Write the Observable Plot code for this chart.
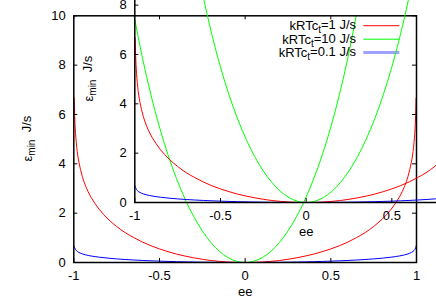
<!DOCTYPE html>
<html>
<head>
<meta charset="utf-8">
<script src="https://cdn.jsdelivr.net/npm/d3@7"></script>
<script src="https://cdn.jsdelivr.net/npm/@observablehq/plot@0.6"></script>
<style>
  html, body { margin: 0; padding: 0; background: white; overflow: hidden; }
  #wrap { position: relative; width: 436px; height: 305px; overflow: hidden; background: white; }
  #wrap svg { position: absolute; max-width: none; }
</style>
</head>
<body>
<div id="wrap"></div>
<script>
// ee sample positions
const ee = [-0.9975,-0.995,-0.99,-0.98,-0.97,-0.95,-0.93,-0.9,-0.85,-0.8,-0.75,-0.7,-0.65,-0.6,-0.55,-0.5,-0.45,-0.4,-0.35,-0.3,-0.25,-0.2,-0.15,-0.1,-0.05,0,
            0.05,0.1,0.15,0.2,0.25,0.3,0.35,0.4,0.45,0.5,0.55,0.6,0.65,0.7,0.75,0.8,0.85,0.9,0.93,0.95,0.97,0.98,0.99,0.995,0.9975];
// kRTc_t = 1 J/s (red)
const red = [6.67,5.96,5.24,4.50,4.06,3.48,3.08,2.65,2.14,1.76,1.46,1.21,1.01,0.83,0.68,0.55,0.44,0.34,0.26,0.19,0.13,0.08,0.045,0.02,0.005,0,
             0.005,0.02,0.045,0.08,0.13,0.19,0.26,0.34,0.44,0.55,0.68,0.83,1.01,1.21,1.46,1.76,2.14,2.65,3.08,3.48,4.06,4.50,5.24,5.96,6.67];
// kRTc_t = 0.1 J/s (blue)
const blue = [0.667,0.596,0.524,0.450,0.406,0.348,0.308,0.265,0.214,0.176,0.146,0.121,0.101,0.083,0.068,0.055,0.044,0.034,0.026,0.019,0.013,0.008,0.005,0.002,0.001,0,
              0.001,0.002,0.005,0.008,0.013,0.019,0.026,0.034,0.044,0.055,0.068,0.083,0.101,0.121,0.146,0.176,0.214,0.265,0.308,0.348,0.406,0.450,0.524,0.596,0.667];
// kRTc_t = 10 J/s (green), only the part inside the y range
const greenEe = [-0.75,-0.7,-0.65,-0.6,-0.55,-0.5,-0.45,-0.4,-0.35,-0.3,-0.25,-0.2,-0.15,-0.1,-0.05,0,
                 0.05,0.1,0.15,0.2,0.25,0.3,0.35,0.4,0.45,0.5,0.55,0.6,0.65,0.7,0.75];
const green = [14.59,12.14,10.08,8.32,6.80,5.49,4.36,3.39,2.56,1.86,1.28,0.81,0.45,0.20,0.05,0,
               0.05,0.20,0.45,0.81,1.28,1.86,2.56,3.39,4.36,5.49,6.80,8.32,10.08,12.14,14.59];

const seriesK = ["1", "10", "0.1"];
const seriesColors = ["#ff0000", "#00ff00", "#0000ff"];
const xTicks = [-1, -0.5, 0, 0.5, 1];
const yTicks = [0, 2, 4, 6, 8, 10];

const redData = ee.map((x, i) => ({x, y: red[i]}));
const blueData = ee.map((x, i) => ({x, y: blue[i]}));
const greenData = greenEe.map((x, i) => ({x, y: green[i]}));

const W = 436, H = 305;
const mL = 73.3, mR = 20, mT = 15.3, mB = 43;
const fW = W - mL - mR, fH = H - mT - mB;
const FONT = "'Liberation Sans', Arial, sans-serif";

function makeChart() {
  const svg = Plot.plot({
    width: W, height: H,
    marginLeft: mL, marginRight: mR, marginTop: mT, marginBottom: mB,
    style: {fontFamily: FONT, fontSize: "13px", background: "transparent", color: "black", maxWidth: "none"},
    x: {domain: [-1, 1]},
    y: {domain: [0, 10]},
    marks: [
      Plot.line(redData, {x: "x", y: "y", stroke: seriesColors[0], strokeWidth: 1, curve: "catmull-rom", clip: true}),
      Plot.line(greenData, {x: "x", y: "y", stroke: seriesColors[1], strokeWidth: 1, curve: "catmull-rom", clip: true}),
      Plot.line(blueData, {x: "x", y: "y", stroke: seriesColors[2], strokeWidth: 1, curve: "catmull-rom", clip: true}),
      Plot.tickX(xTicks, {x: d => d, insetTop: fH - 4, stroke: "black"}),
      Plot.tickX(xTicks, {x: d => d, insetBottom: fH - 4, stroke: "black"}),
      Plot.tickY(yTicks, {y: d => d, insetRight: fW - 4, stroke: "black"}),
      Plot.tickY(yTicks, {y: d => d, insetLeft: fW - 4, stroke: "black"}),
      Plot.axisX({ticks: xTicks, tickSize: 0, tickPadding: 8, tickFormat: d => String(d), label: null, fontSize: 13}),
      Plot.axisY({ticks: yTicks, tickSize: 0, tickPadding: 8, tickFormat: d => String(d), label: null, fontSize: 13}),
      Plot.text(["ee"], {frameAnchor: "bottom", dy: 33, fontSize: 13, fill: "black"}),
      Plot.frame({stroke: "black", strokeWidth: 1.5})
    ]
  });
  const s = d3.select(svg);
  // y label with subscript
  const yl = s.append("text")
    .attr("transform", "translate(31.5,138.6) rotate(-90)")
    .attr("text-anchor", "middle")
    .attr("font-family", FONT)
    .attr("font-size", 13)
    .attr("fill", "black");
  yl.append("tspan").text("ε");
  yl.append("tspan").attr("dy", "0.3em").attr("font-size", 10).text("min");
  yl.append("tspan").attr("dy", "-0.3em").text("\u00a0\u00a0J/s");
  // key
  const rowY = [25.7, 39.2, 52.4];
  seriesK.forEach((k, i) => {
    const t = s.append("text")
      .attr("x", 356).attr("y", rowY[i] + 4.5)
      .attr("text-anchor", "end")
      .attr("font-family", FONT)
      .attr("font-size", 13)
      .attr("fill", "black");
    t.append("tspan").text("kRTc");
    t.append("tspan").attr("dy", "0.3em").attr("font-size", 10).text("t");
    t.append("tspan").attr("dy", "-0.3em").text("=" + k + " J/s");
    s.append("line")
      .attr("x1", 363.3).attr("x2", 399.3)
      .attr("y1", rowY[i]).attr("y2", rowY[i])
      .attr("stroke", i === 2 ? "#a0a0ff" : seriesColors[i])
      .attr("stroke-width", i === 2 ? 3 : 1);
  });
  return svg;
}

const wrap = document.getElementById("wrap");
const main = makeChart();
main.style.left = "0px"; main.style.top = "0px";
wrap.appendChild(main);
const inset = makeChart();
inset.style.left = "61px"; inset.style.top = "-60.5px";
wrap.appendChild(inset);
</script>
</body>
</html>
